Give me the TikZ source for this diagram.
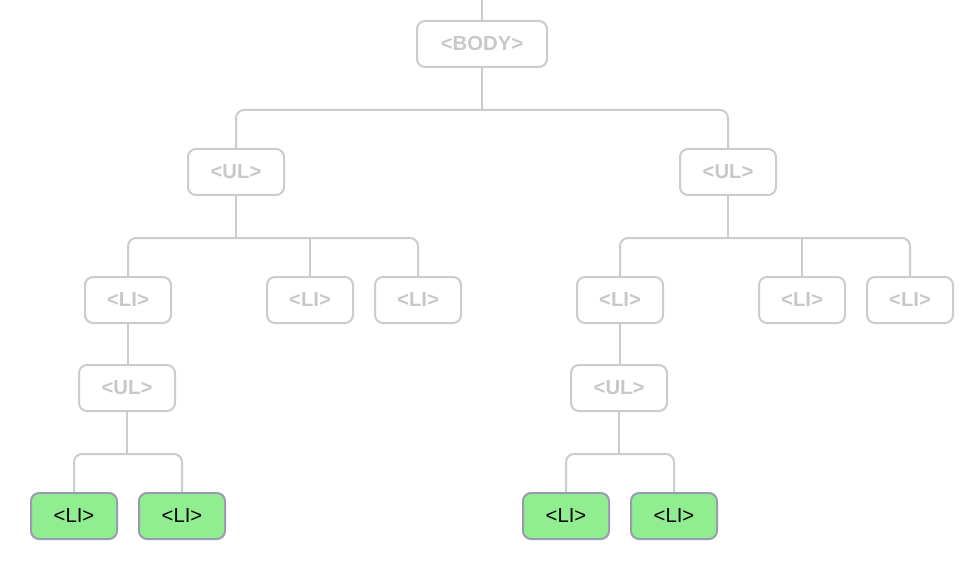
\documentclass[tikz,border=0pt]{standalone}
\usepackage{fontspec}
\setmainfont{Liberation Sans}
\definecolor{lightln}{RGB}{204,204,204}
\definecolor{graytxt}{RGB}{200,200,200}
\definecolor{leafgreen}{RGB}{144,238,144}
\definecolor{leafborder}{RGB}{150,156,178}
\begin{document}
\begin{tikzpicture}[x=0.75pt,y=-0.75pt,
  base/.style={rectangle, rounded corners=6pt, line width=1.5pt, inner sep=0pt,
    minimum height=34.5pt, font=\fontsize{15.2pt}{18pt}\selectfont},
  grayn/.style={base, draw=lightln, fill=white, text=graytxt, font=\fontsize{15.2pt}{18pt}\selectfont\bfseries},
  greenn/.style={base, draw=leafborder, fill=leafgreen, text=black},
  wbody/.style={minimum width=97.5pt},
  wul/.style={minimum width=72pt},
  wli/.style={minimum width=64.5pt},
  ln/.style={draw=lightln, line width=1.5pt},
  lnr/.style={ln, rounded corners=6pt}]
\useasboundingbox (0,0) rectangle (980,570);
\fill[white] (0,0) rectangle (980,570);

% nodes
\node[grayn, wbody] (body) at (482,44) {<BODY>};
\node[grayn, wul] (ulL) at (236,172) {<UL>};
\node[grayn, wul] (ulR) at (728,172) {<UL>};
\node[grayn, wli] (liA) at (128,300) {<LI>};
\node[grayn, wli] (liB) at (310,300) {<LI>};
\node[grayn, wli] (liC) at (418,300) {<LI>};
\node[grayn, wli] (liD) at (620,300) {<LI>};
\node[grayn, wli] (liE) at (802,300) {<LI>};
\node[grayn, wli] (liF) at (910,300) {<LI>};
\node[grayn, wul] (ul3L) at (127,388) {<UL>};
\node[grayn, wul] (ul3R) at (619,388) {<UL>};
\node[greenn, wli] (g1) at (74,516) {<LI>};
\node[greenn, wli] (g2) at (182,516) {<LI>};
\node[greenn, wli] (g3) at (566,516) {<LI>};
\node[greenn, wli] (g4) at (674,516) {<LI>};

\coordinate (top) at (482,0);

% connectors
\begin{scope}[on background layer/.style={}]
\draw[ln] (top) -- (body.north);
\draw[ln] (body.south) -- ++(0,42) coordinate (m1);
\draw[lnr] (ulL.north) |- (m1) -| (ulR.north);

\draw[ln] (ulL.south) -- ++(0,42) coordinate (m2L);
\draw[lnr] (liA.north) |- (m2L) -| (liC.north);
\draw[ln] (liB.north) -- (liB.north |- m2L);

\draw[ln] (ulR.south) -- ++(0,42) coordinate (m2R);
\draw[lnr] (liD.north) |- (m2R) -| (liF.north);
\draw[ln] (liE.north) -- (liE.north |- m2R);

\draw[ln] (liA.south) -- (liA.south |- ul3L.north);
\draw[ln] (liD.south) -- (liD.south |- ul3R.north);

\draw[ln] (ul3L.south) -- ++(0,42) coordinate (m4L);
\draw[lnr] (g1.north) |- (m4L) -| (g2.north);
\draw[ln] (ul3R.south) -- ++(0,42) coordinate (m4R);
\draw[lnr] (g3.north) |- (m4R) -| (g4.north);
\end{scope}
\end{tikzpicture}
\end{document}
